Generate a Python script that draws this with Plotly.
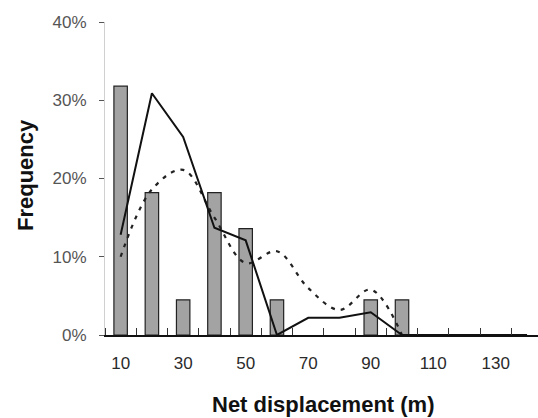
import plotly.graph_objects as go

categories = [10, 20, 30, 40, 50, 60, 70, 80, 90, 100, 110, 120, 130, 140]
bar_x = [10, 20, 30, 40, 50, 60, 90, 100]
bar_y = [31.8, 18.2, 4.5, 18.2, 13.6, 4.5, 4.5, 4.5]
solid_y = [12.8, 30.9, 25.3, 13.7, 12.1, 0, 2.2, 2.2, 2.9, 0, 0, 0, 0, 0]
dotted_x = [10, 20, 30, 40, 50, 60, 70, 80, 90, 100]
dotted_y = [10.0, 18.6, 21.1, 15.0, 9.2, 10.7, 6.0, 3.2, 5.8, 0]
x_tick_vals = [10, 30, 50, 70, 90, 110, 130]
y_tick_vals = [0, 10, 20, 30, 40]

W, H = 538, 418
L, R, T, B = 105, 0, 22, 83
PW, PH = W - L - R, H - T - B

fig = go.Figure()
fig.add_trace(go.Bar(
    x=bar_x, y=bar_y, width=4.3,
    marker=dict(color="#a3a3a3", line=dict(color="#222", width=1.2)),
    showlegend=False,
))
fig.add_trace(go.Scatter(
    x=dotted_x, y=dotted_y, mode="lines", line_shape="spline",
    line=dict(color="#222", width=2.2, dash="4px,6px"), showlegend=False,
))
fig.add_trace(go.Scatter(
    x=categories, y=solid_y, mode="lines",
    line=dict(color="#111", width=2), showlegend=False,
))

fig.update_layout(
    width=W, height=H,
    margin=dict(l=L, r=R, t=T, b=B),
    paper_bgcolor="white", plot_bgcolor="white",
    font=dict(family="Liberation Sans, Arial, sans-serif", color="#444", size=12),
    xaxis=dict(
        range=[5, 143.5], tickvals=x_tick_vals, ticktext=[str(v) for v in x_tick_vals],
        ticks="", showgrid=False, zeroline=False,
        showline=True, linecolor="#111", linewidth=1.5,
        tickfont=dict(size=17, color="#2a2a2a"), ticklabelstandoff=12,
        minor=dict(tick0=5, dtick=10, ticks="inside", ticklen=7, tickcolor="#333", tickwidth=1),
    ),
    yaxis=dict(
        range=[0, 40], tickvals=y_tick_vals, ticktext=[f"{v}%" for v in y_tick_vals],
        ticks="outside", ticklen=5, tickcolor="#555", showgrid=False, zeroline=False,
        showline=True, linecolor="#d0d0d0", linewidth=1,
        tickfont=dict(size=17, color="#555"), ticklabelstandoff=9,
    ),
)
fig.add_annotation(text="<b>Frequency</b>", textangle=-90, xref="paper", yref="paper",
                   x=(25 - L) / PW, y=(H - B - 175) / PH, showarrow=False,
                   font=dict(size=22, color="#111"), xanchor="center", yanchor="middle")
fig.add_annotation(text="<b>Net displacement (m)</b>", xref="paper", yref="paper",
                   x=(323 - L) / PW, y=(H - B - 404) / PH, showarrow=False,
                   font=dict(size=22, color="#111"), xanchor="center", yanchor="middle")

fig.write_html("out.html", config={"displayModeBar": False},
               post_script="document.body.style.margin='0';document.body.style.overflow='hidden';")
